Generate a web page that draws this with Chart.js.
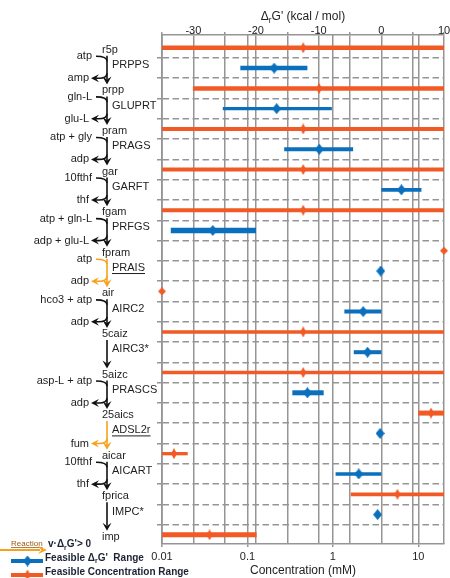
<!DOCTYPE html>
<html>
<head>
<meta charset="utf-8">
<script src="https://cdn.jsdelivr.net/npm/chart.js@4/dist/chart.umd.min.js"></script>
<style>
  html, body { margin: 0; padding: 0; background: #ffffff; }
  #c { display: block; }
</style>
</head>
<body>
<canvas id="c" width="450" height="578"></canvas>
<script>
// Purine biosynthesis: metabolites (even rows) and the reactions joining them (odd rows)
const metabolites = ['r5p', 'prpp', 'pram', 'gar', 'fgam', 'fpram', 'air', '5caiz', '5aizc', '25aics', 'aicar', 'fprica', 'imp'];

// Feasible concentration range (mM) and its centre
const concLow  = [0.01, 0.023, 0.01, 0.01, 0.01, 20, 0.01, 0.01, 0.01, 10, 0.01, 1.62, 0.01];
const concHigh = [20, 20, 20, 20, 20, 20, 0.01, 20, 20, 20, 0.02, 20, 0.128];
const concMid  = [0.45, 0.69, 0.45, 0.45, 0.45, 20, 0.01, 0.45, 0.45, 14.1, 0.0138, 5.7, 0.036];

const reactions    = ['PRPPS', 'GLUPRT', 'PRAGS', 'GARFT', 'PRFGS', 'PRAIS', 'AIRC2', 'AIRC3*', 'PRASCS', 'ADSL2r', 'AICART', 'IMPC*'];
const cofactorsIn  = ['atp', 'gln-L', 'atp + gly', '10fthf', 'atp + gln-L', 'atp', 'hco3 + atp', '', 'asp-L + atp', '', '10fthf', ''];
const cofactorsOut = ['amp', 'glu-L', 'adp', 'thf', 'adp + glu-L', 'adp', 'adp', '', 'adp', 'fum', 'thf', ''];
const positiveFlux = [false, false, false, false, false, true, false, false, false, true, false, false];

// Feasible ΔrG' range (kcal/mol) and its centre
const dgLow  = [-22.5, -25.3, -15.5, 0, -33.6, -0.1, -5.9, -4.4, -14.2, -0.2, -7.3, -0.6];
const dgHigh = [-11.8, -7.9, -4.5, 6.4, -20.0, -0.1, 0, 0, -9.2, -0.2, 0, -0.6];
const dgMid  = [-17.1, -16.7, -9.9, 3.2, -26.9, -0.1, -2.9, -2.2, -11.8, -0.2, -3.6, -0.6];

// Axis ticks
const concTicks = [0.01, 0.1, 1, 10];
const concTickLabels = ['0.01', '0.1', '1', '10'];
const dgGrid = [-35, -30, -25, -20, -15, -10, -5, 0, 5, 10];
const dgTickLabels = [-30, -20, -10, 0, 10];

// Stroke widths of the range bars
const concWidths = [4.5, 4.5, 4, 4, 4, 0, 0, 3.5, 3.7, 5, 3.3, 3.7, 5];
const dgWidths   = [4.5, 3.2, 4, 3.7, 5.5, 0, 4, 4, 5, 0, 3.3, 0];

const ORANGE = '#f15a24';
const BLUE = '#0a6fbd';
const AMBER = '#f7a21b';
const INK = '#1e1e1e';
const GRID = '#959595';
const FONT = '"Liberation Sans", Arial, sans-serif';

// diamond-shaped marker sprites
function diamond(w, h, color) {
  const c = document.createElement('canvas');
  c.width = w; c.height = h;
  const g = c.getContext('2d');
  g.fillStyle = color;
  g.beginPath();
  g.moveTo(w / 2, 0); g.lineTo(w, h / 2); g.lineTo(w / 2, h); g.lineTo(0, h / 2);
  g.closePath();
  g.fill();
  return c;
}
const orangeTick = diamond(6, 11, ORANGE);
const orangeDot = diamond(8, 8, ORANGE);
const blueMark = diamond(9, 11, BLUE);

const gridRows = [];
for (let i = 0; i < 24; i++) gridRows.push(i + 0.5);

const datasets = [];
metabolites.forEach((name, k) => {
  if (concLow[k] === concHigh[k]) return;
  datasets.push({
    label: name, xAxisID: 'x', yAxisID: 'y', showLine: true,
    data: [{ x: concLow[k], y: 2 * k }, { x: concHigh[k], y: 2 * k }],
    borderColor: ORANGE, borderWidth: concWidths[k], borderCapStyle: 'butt',
    pointRadius: 0, clip: false
  });
});
reactions.forEach((name, k) => {
  if (dgLow[k] === dgHigh[k]) return;
  datasets.push({
    label: name, xAxisID: 'xTop', yAxisID: 'y', showLine: true,
    data: [{ x: dgLow[k], y: 2 * k + 1 }, { x: dgHigh[k], y: 2 * k + 1 }],
    borderColor: BLUE, borderWidth: dgWidths[k], borderCapStyle: 'butt',
    pointRadius: 0, clip: false
  });
});
datasets.push({
  label: 'concentration centre', xAxisID: 'x', yAxisID: 'y', showLine: false,
  data: concMid.map((v, k) => ({ x: v, y: 2 * k })),
  pointStyle: concMid.map((v, k) => (concLow[k] === concHigh[k] ? orangeDot : orangeTick)),
  pointRadius: 4, clip: false
});
datasets.push({
  label: 'ΔrG centre', xAxisID: 'xTop', yAxisID: 'y', showLine: false,
  data: dgMid.map((v, k) => ({ x: v, y: 2 * k + 1 })),
  pointStyle: blueMark, pointRadius: 4, clip: false
});

// text with subscript pieces: parts = [[text, isSub], ...]
function drawRich(ctx, parts, x, y, size, weight, align) {
  const widths = parts.map(([t, sub]) => {
    ctx.font = `${weight} ${sub ? size * 0.68 : size}px ${FONT}`;
    return ctx.measureText(t).width;
  });
  const total = widths.reduce((a, b) => a + b, 0);
  let cx = align === 'center' ? x - total / 2 : x;
  ctx.textAlign = 'left';
  ctx.textBaseline = 'middle';
  parts.forEach(([t, sub], i) => {
    ctx.font = `${weight} ${sub ? size * 0.68 : size}px ${FONT}`;
    ctx.fillText(t, cx, sub ? y + size * 0.32 : y);
    cx += widths[i];
  });
}

function headDown(ctx, x, tip, len, hw) {
  ctx.beginPath();
  ctx.moveTo(x, tip);
  ctx.lineTo(x - hw, tip - len);
  ctx.lineTo(x, tip - len * 0.62);
  ctx.lineTo(x + hw, tip - len);
  ctx.closePath();
  ctx.fill();
}
function headLeft(ctx, tip, y, len, hw) {
  ctx.beginPath();
  ctx.moveTo(tip, y);
  ctx.lineTo(tip + len, y - hw);
  ctx.lineTo(tip + len * 0.62, y);
  ctx.lineTo(tip + len, y + hw);
  ctx.closePath();
  ctx.fill();
}
function headRight(ctx, tip, y, len, hw) {
  ctx.beginPath();
  ctx.moveTo(tip, y);
  ctx.lineTo(tip - len, y - hw);
  ctx.lineTo(tip - len * 0.62, y);
  ctx.lineTo(tip - len, y + hw);
  ctx.closePath();
  ctx.fill();
}

// Pathway drawn beside the rows, titles with subscripts, and the key
const pathwayPlugin = {
  id: 'pathway',
  afterDraw(chart) {
    const ctx = chart.ctx;
    const ys = chart.scales.y;
    const area = chart.chartArea;
    const X = 107;
    ctx.save();

    // top axis title
    ctx.fillStyle = INK;
    drawRich(ctx, [['Δ', 0], ['r', 1], ["G' (kcal / mol)", 0]], (area.left + area.right) / 2, 16.5, 12, 'normal', 'center');

    ctx.textBaseline = 'middle';
    metabolites.forEach((m, k) => {
      ctx.font = `11px ${FONT}`;
      ctx.fillStyle = INK;
      ctx.textAlign = 'left';
      ctx.fillText(m, 102, ys.getPixelForValue(2 * k) + 2);
    });

    reactions.forEach((r, k) => {
      const col = positiveFlux[k] ? AMBER : '#111111';
      const yM = ys.getPixelForValue(2 * k);
      const yR = ys.getPixelForValue(2 * k + 1);
      const yN = ys.getPixelForValue(2 * k + 2);
      const yIn = yM + 8.5;
      const yOut = ys.getPixelForValue(2 * k + 1.5);
      const tip = yN - 4;

      ctx.strokeStyle = col;
      ctx.fillStyle = col;
      ctx.lineWidth = 1.6;
      ctx.beginPath();
      ctx.moveTo(X, yM + 8);
      ctx.lineTo(X, tip - 5);
      ctx.stroke();
      headDown(ctx, X, tip, 8, 4.5);

      if (cofactorsIn[k]) {
        ctx.beginPath();
        ctx.moveTo(X - 11, yIn);
        ctx.quadraticCurveTo(X, yIn, X, yIn + 5);
        ctx.stroke();
        ctx.fillStyle = INK;
        ctx.font = `11px ${FONT}`;
        ctx.textAlign = 'right';
        ctx.fillText(cofactorsIn[k], X - 15, yIn);
      }
      if (cofactorsOut[k]) {
        ctx.fillStyle = col;
        ctx.beginPath();
        ctx.moveTo(X, yOut - 5);
        ctx.quadraticCurveTo(X, yOut, X - 8, yOut);
        ctx.lineTo(X - 11, yOut);
        ctx.stroke();
        headLeft(ctx, X - 16, yOut, 8, 4);
        ctx.fillStyle = INK;
        ctx.font = `11px ${FONT}`;
        ctx.textAlign = 'right';
        ctx.fillText(cofactorsOut[k], X - 18, yOut);
      }

      ctx.fillStyle = INK;
      ctx.font = `11px ${FONT}`;
      ctx.textAlign = 'left';
      ctx.fillText(r, X + 5, yR - 3);
      if (positiveFlux[k]) {
        const w = ctx.measureText(r).width;
        ctx.strokeStyle = INK;
        ctx.lineWidth = 1;
        ctx.beginPath();
        ctx.moveTo(X + 5, yR + 2.5);
        ctx.lineTo(X + 5 + w, yR + 2.5);
        ctx.stroke();
      }
    });

    // key
    ctx.fillStyle = '#9a5a14';
    ctx.font = `8px ${FONT}`;
    ctx.textAlign = 'left';
    ctx.fillText('Reaction', 11, 544);
    const rw = ctx.measureText('Reaction').width;
    ctx.strokeStyle = '#9a5a14';
    ctx.lineWidth = 0.8;
    ctx.beginPath();
    ctx.moveTo(11, 547.5);
    ctx.lineTo(11 + rw, 547.5);
    ctx.stroke();
    ctx.fillStyle = '#1c2233';
    drawRich(ctx, [['v·Δ', 0], ['r', 1], ["G'> 0", 0]], 48, 544.5, 10, 'bold', 'left');

    ctx.strokeStyle = AMBER;
    ctx.fillStyle = AMBER;
    ctx.lineWidth = 1.8;
    ctx.beginPath();
    ctx.moveTo(0, 550);
    ctx.lineTo(40, 550);
    ctx.stroke();
    headRight(ctx, 47, 550, 9, 4);

    ctx.strokeStyle = BLUE;
    ctx.lineWidth = 4;
    ctx.beginPath();
    ctx.moveTo(11, 561);
    ctx.lineTo(43, 561);
    ctx.stroke();
    ctx.drawImage(blueMark, 27.5 - blueMark.width / 2, 561 - blueMark.height / 2);

    ctx.strokeStyle = ORANGE;
    ctx.beginPath();
    ctx.moveTo(11, 575);
    ctx.lineTo(43, 575);
    ctx.stroke();
    ctx.drawImage(orangeTick, 27.5 - orangeTick.width / 2, 575 - orangeTick.height / 2);

    ctx.fillStyle = '#1c2233';
    drawRich(ctx, [['Feasible Δ', 0], ['r', 1], ["G'  Range", 0]], 45, 558, 10, 'bold', 'left');
    drawRich(ctx, [['Feasible Concentration Range', 0]], 45, 572.5, 10, 'bold', 'left');

    ctx.restore();
  }
};

new Chart(document.getElementById('c'), {
  type: 'scatter',
  data: { datasets },
  options: {
    responsive: false,
    animation: false,
    events: [],
    layout: { padding: { left: 0, right: 6, top: 0, bottom: 0 } },
    plugins: { legend: { display: false }, tooltip: { enabled: false } },
    scales: {
      x: {
        type: 'logarithmic', position: 'bottom', min: 0.01, max: 20,
        afterBuildTicks: s => { s.ticks = concTicks.map(v => ({ value: v })); },
        afterFit: s => { s.height = 34; },
        ticks: {
          color: INK, font: { family: FONT, size: 11 }, padding: 3,
          autoSkip: false, maxRotation: 0,
          callback: v => concTickLabels[concTicks.indexOf(v)]
        },
        grid: { color: GRID, lineWidth: 1.5, tickLength: 3 },
        border: { color: GRID, width: 1.5 },
        title: {
          display: true, text: 'Concentration (mM)', color: INK,
          font: { family: FONT, size: 12 }, padding: { top: 0, bottom: 0 }
        }
      },
      xTop: {
        type: 'linear', position: 'top', min: -35, max: 10,
        afterBuildTicks: s => { s.ticks = dgGrid.map(v => ({ value: v })); },
        afterFit: s => { s.height = 35; },
        ticks: {
          color: INK, font: { family: FONT, size: 11 }, padding: -6,
          autoSkip: false, maxRotation: 0,
          callback: v => (dgTickLabels.includes(v) ? String(v) : '')
        },
        grid: { color: GRID, lineWidth: 1.5, tickLength: 3 },
        border: { color: GRID, width: 1.5 }
      },
      y: {
        type: 'linear', position: 'left', reverse: true, min: -0.63, max: 24.45,
        afterBuildTicks: s => { s.ticks = gridRows.map(v => ({ value: v })); },
        afterFit: s => { s.width = 162; },
        ticks: { display: false },
        grid: { color: GRID, lineWidth: 1.5, tickLength: 5 },
        border: { display: true, color: GRID, width: 1.5, dash: [6.5, 3.5] }
      }
    }
  },
  plugins: [pathwayPlugin]
});
</script>
</body>
</html>
